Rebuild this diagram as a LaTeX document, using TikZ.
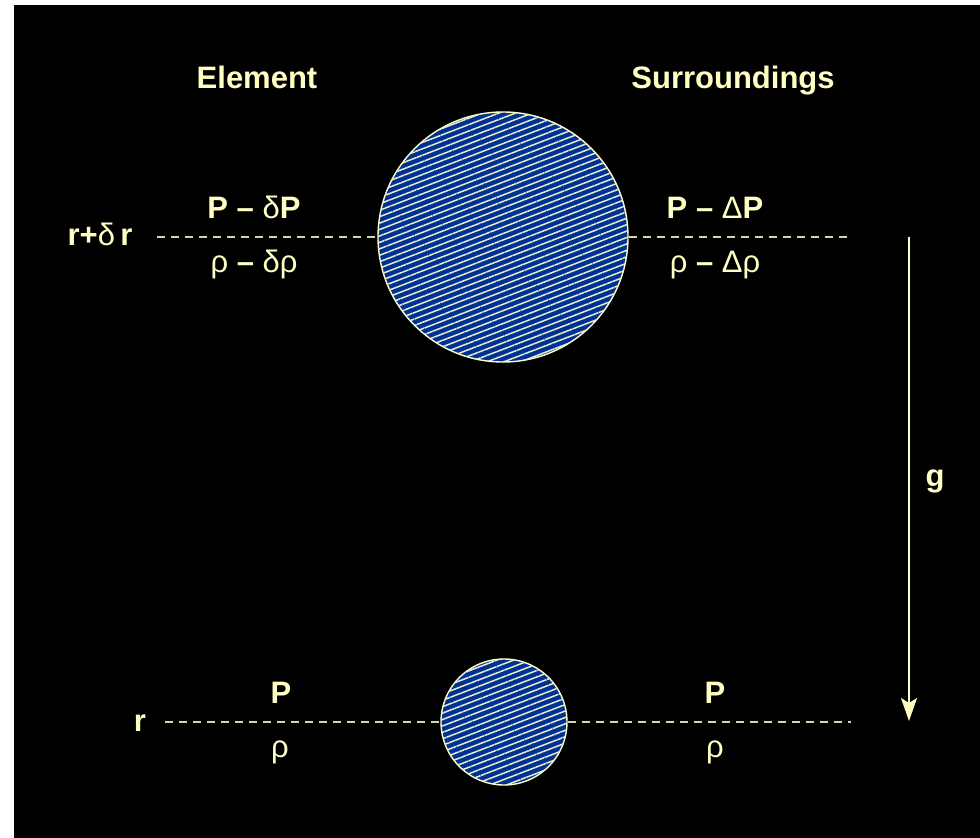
\documentclass[tikz,border=0pt]{standalone}
\usepackage{fontspec}
\setmainfont{Liberation Sans}
\usetikzlibrary{arrows.meta,patterns.meta}
\definecolor{txt}{RGB}{255,255,196}
\definecolor{dashc}{RGB}{214,214,172}
\definecolor{ballblue}{RGB}{0,50,150}
\definecolor{hatchc}{RGB}{235,235,205}
\newcommand\gk[1]{{\mdseries #1}}
\tikzset{
  lbl/.style={text=txt, font=\fontsize{31}{36}\selectfont\bfseries, anchor=base, inner sep=0pt},
  ball/.style={circle, draw=txt, line width=1.4pt, fill=ballblue, inner sep=0pt,
    postaction={pattern={Lines[angle=21,distance=6pt,line width=1.5pt]}, pattern color=hatchc}},
  level/.style={dashc, line width=2pt, dash pattern=on 8pt off 6pt},
  grav/.style={txt, line width=2.2pt, -{Stealth[length=23pt,width=16pt,inset=5pt]}}
}
\begin{document}
\begin{tikzpicture}[x=1pt,y=-1pt]
\useasboundingbox (0,0) rectangle (980,838);
\fill[white] (0,0) rectangle (980,838);
\fill[black] (14,5) rectangle (980,838);

% headings
\node[lbl] (hel) at (257,88) {Element};
\node[lbl] (hsu) at (733,88) {Surroundings};

% circles
\node[ball, minimum size=250pt] (big) at (503,237) {};
\node[ball, minimum size=126pt] (small) at (504,722) {};

% level lines
\coordinate (tl) at (157,237);
\coordinate (tr) at (848,237);
\coordinate (bl) at (165,722);
\coordinate (br) at (851,722);
\draw[level] (tl) -- (big.west);
\draw[level] (big.east) -- (tr);
\draw[level] (bl) -- (small.west);
\draw[level] (small.east) -- (br);

% gravity arrow
\coordinate (gtop) at (909,237);
\coordinate (gbot) at (909,721);
\draw[grav] (gtop) -- (gbot);
\node[lbl] (g) at (935,486) {g};

% top labels
\node[lbl] (rdr) at (100,245) {r+\gk{δ}\,r};
\node[lbl] (pel) at (254,218) {P – \gk{δ}P};
\node[lbl] (rel) at (254,272) {\gk{ρ} – \gk{δρ}};
\node[lbl] (psu) at (715,218) {P – \gk{Δ}P};
\node[lbl] (rsu) at (715,272) {\gk{ρ} – \gk{Δρ}};

% bottom labels
\node[lbl] (r) at (140,731) {r};
\node[lbl] (pel2) at (281,703) {P};
\node[lbl] (rel2) at (280,757) {\gk{ρ}};
\node[lbl] (psu2) at (715,703) {P};
\node[lbl] (rsu2) at (715,757) {\gk{ρ}};
\end{tikzpicture}
\end{document}
